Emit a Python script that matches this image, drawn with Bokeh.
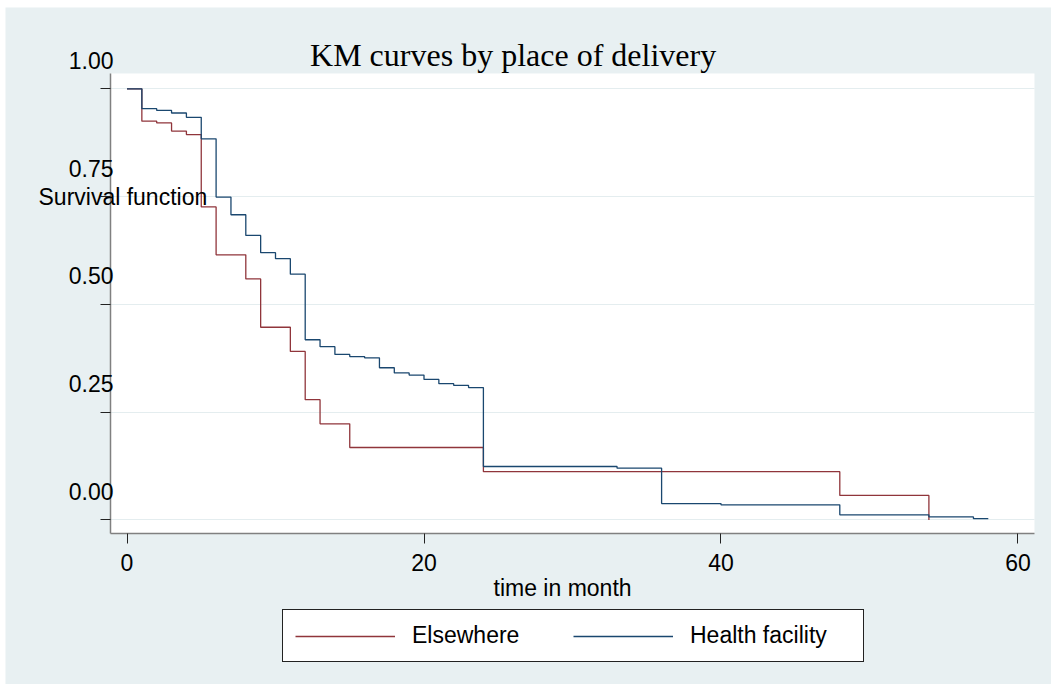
from bokeh.plotting import figure
from bokeh.models import (Range1d, FixedTicker, Label, LabelSet, ColumnDataSource,
                          Legend, LegendItem, BoxAnnotation)
from bokeh.core.properties import value
from bokeh.embed import file_html
from bokeh.resources import INLINE

# Kaplan-Meier survival estimates by place of delivery (time in months)
elsewhere_t = [0, 1, 2, 3, 4, 5, 6, 8, 9, 11, 12, 13, 15, 24, 48, 54]
elsewhere_s = [1.000, 0.925, 0.921, 0.902, 0.894, 0.726, 0.615, 0.559, 0.447,
               0.391, 0.279, 0.223, 0.168, 0.112, 0.057, 0.000]

health_t = [0, 1, 2, 3, 4, 5, 6, 7, 8, 9, 10, 11, 12, 13, 14, 15, 16, 17, 18,
            19, 20, 21, 22, 23, 24, 33, 36, 40, 48, 54, 57]
health_s = [1.000, 0.954, 0.950, 0.944, 0.934, 0.884, 0.749, 0.708, 0.660,
            0.620, 0.606, 0.570, 0.418, 0.402, 0.384, 0.379, 0.376, 0.353,
            0.341, 0.336, 0.326, 0.316, 0.312, 0.307, 0.124, 0.120, 0.038,
            0.035, 0.012, 0.007, 0.003]
health_last_followup = 58

x_ticks = [0, 20, 40, 60]
y_ticks = [0.0, 0.25, 0.50, 0.75, 1.0]
y_tick_labels = ["0.00", "0.25", "0.50", "0.75", "1.00"]

series_names = ["Elsewhere", "Health facility"]
series_colors = ["#90353B", "#1A476F"]

title_text = "KM curves by place of delivery"
x_title = "time in month"
y_title = "Survival function"

SANS = "Liberation Sans"
SERIF = "Liberation Serif"
GRAPH_BG = "#E8F0F2"

# plot region (white) inside the whole graph area
REGION_X = (-1.111, 61.11)
REGION_Y = (-0.0318, 1.0355)

# the data frame covers the whole graph; the plot region is a white box in it
p = figure(width=1046, height=677, margin=(7, 0, 0, 5),
           x_range=Range1d(-8.182, 62.256), y_range=Range1d(-0.3817, 1.1887),
           output_backend="svg", toolbar_location=None, min_border=0)
p.background_fill_color = GRAPH_BG
p.border_fill_color = GRAPH_BG
p.outline_line_color = None

p.add_layout(BoxAnnotation(left=REGION_X[0], right=REGION_X[1],
                           bottom=REGION_Y[0], top=REGION_Y[1],
                           fill_color="white", fill_alpha=1.0,
                           line_color=None, level="image"))

# survival curves
r_else = p.step(elsewhere_t, elsewhere_s, mode="after",
                line_color=series_colors[0], line_width=1.3)
r_health = p.step(health_t + [health_last_followup],
                  health_s + [health_s[-1]], mode="after",
                  line_color=series_colors[1], line_width=1.3)

# axes pinned to the edges of the plot region
p.xaxis.fixed_location = REGION_Y[0]
p.yaxis.fixed_location = REGION_X[0]
p.xaxis.bounds = REGION_X
p.yaxis.bounds = REGION_Y
p.xaxis.ticker = FixedTicker(ticks=x_ticks)
p.yaxis.ticker = FixedTicker(ticks=y_ticks)
for ax in (p.xaxis, p.yaxis):
    ax.axis_line_color = "#808080"
    ax.axis_line_width = 1.5
    ax.major_tick_line_color = "#222222"
    ax.major_tick_line_width = 1
    ax.major_tick_in = 0
    ax.major_tick_out = 10
    ax.minor_tick_in = 0
    ax.minor_tick_out = 0
p.xaxis.major_label_text_font = SANS
p.xaxis.major_label_text_font_size = "23px"
p.xaxis.major_label_text_color = "black"
p.xaxis.major_label_standoff = 10
p.yaxis.major_label_text_color = None

p.xgrid.visible = False
p.ygrid.ticker = FixedTicker(ticks=y_ticks)
p.ygrid.grid_line_color = "#E4EDEF"
p.ygrid.grid_line_width = 1
if "cross_bounds" in p.ygrid[0].properties():
    p.ygrid.cross_bounds = REGION_X

# y tick labels sit a little above their ticks
label_x = -0.91
label_lift = 0.066
ylab_src = ColumnDataSource(dict(
    x=[label_x] * len(y_ticks),
    y=[t + label_lift for t in y_ticks],
    text=y_tick_labels))
p.add_layout(LabelSet(x="x", y="y", text="text", source=ylab_src,
                      text_align="right", text_baseline="middle",
                      text_font=value(SANS), text_font_size="23px",
                      text_color="black"))

# axis titles and chart title
p.add_layout(Label(x=-5.96, y=0.75, text=y_title, text_align="left",
                   text_baseline="middle", text_font=SANS,
                   text_font_size="23px", text_color="black"))
p.add_layout(Label(x=29.33, y=-0.157, text=x_title, text_align="center",
                   text_baseline="middle", text_font=SANS,
                   text_font_size="23px", text_color="black"))
p.add_layout(Label(x=26.0, y=1.078, text=title_text, text_align="center",
                   text_baseline="middle", text_font=SERIF,
                   text_font_size="32px", text_color="black"))

legend = Legend(items=[LegendItem(label=series_names[0], renderers=[r_else]),
                       LegendItem(label=series_names[1], renderers=[r_health])],
                location=(277, 22), orientation="horizontal", margin=0,
                padding=12, spacing=0, glyph_width=100, glyph_height=20,
                label_standoff=17, label_width=161,
                label_text_font=SANS, label_text_font_size="23px",
                label_text_color="black",
                border_line_color="#222222", border_line_width=1.2,
                border_line_alpha=1.0,
                background_fill_color="white", background_fill_alpha=1.0)
p.add_layout(legend, "center")

open("out.html", "w").write(file_html(p, INLINE))
